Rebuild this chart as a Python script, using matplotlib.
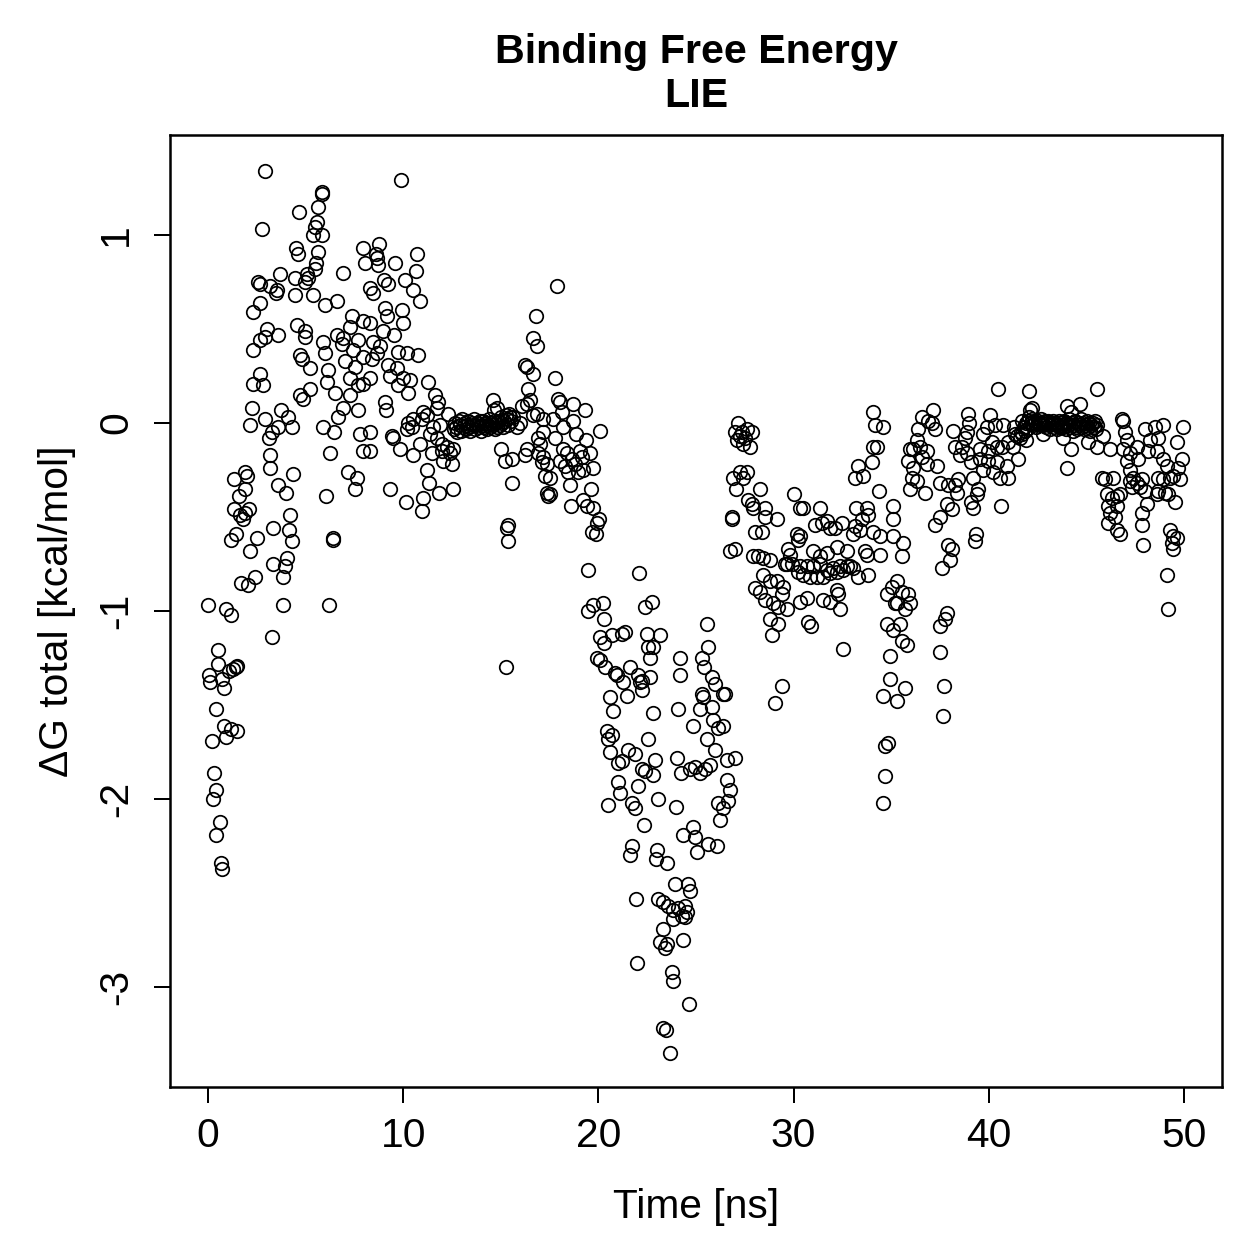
import numpy as np
import matplotlib
matplotlib.use("Agg")
import matplotlib.pyplot as plt

plt.rcParams['font.family'] = ['Liberation Sans', 'DejaVu Sans']
plt.rcParams['axes.unicode_minus'] = False

# ---- data (time in ns, dG in kcal/mol) ----
t_a = [0.0,0.05,0.1,0.2,0.3,0.25,0.4,0.4,0.6,0.65,0.7,0.5,0.5,0.4,0.7,0.8,0.8,0.9,0.9,1.05,1.15,1.2,1.2,1.3,1.35,1.35,1.45,1.5,1.45,1.5,1.6,1.65,1.7,1.8,1.9,1.9,1.9,2.05,2.0,2.1]
v_a = [-0.97,-1.34,-1.38,-1.69,-1.86,-2.0,-1.95,-2.19,-2.12,-2.34,-2.37,-1.21,-1.28,-1.52,-1.36,-1.41,-1.61,-1.67,-0.99,-1.32,-1.63,-0.62,-1.02,-1.31,-0.30,-0.46,-1.30,-1.64,-0.59,-1.29,-0.39,-0.49,-0.85,-0.51,-0.26,-0.48,-0.35,-0.86,-0.28,-0.46]

t_b = [2.92,5.82,5.84,4.68,5.65,5.56,5.48,2.75,5.36,5.82,4.51,4.63,5.65,7.96,8.04,5.53,2.58,2.66,3.69,3.18,3.55,3.48,4.46,5.05,5.14,4.97,5.48,6.9,8.3,2.66,2.29,4.46,5.4,5.99,6.59,7.36,7.96,3.0,2.92,2.66,2.32,3.6,4.54,4.97,4.97,5.91,6.59,6.93,6.85,7.27,7.7,7.44,5.99,4.71,4.8,5.22,7.02,7.53,7.96,2.66,2.32,2.83,6.16,6.08,7.27,7.7,7.96,4.71,4.88,5.22,6.5,7.27,2.24,2.15,2.92,3.72,4.11,4.29,3.6,3.26,3.14,5.91,6.45,6.93,6.68,7.7,7.79,6.25,7.92,3.18,3.18,4.37,3.6,3.99,7.19,7.61,7.53,6.05,4.2,3.35,4.16,4.29,2.49,2.15,6.39,6.39,3.35,4.06,3.94,3.82,2.41,3.86,6.22,3.26]
v_b = [1.34,1.23,1.22,1.12,1.15,1.07,1.04,1.03,1.00,1.0,0.93,0.90,0.91,0.93,0.85,0.85,0.75,0.74,0.79,0.73,0.71,0.69,0.77,0.79,0.77,0.75,0.82,0.80,0.72,0.64,0.59,0.68,0.68,0.63,0.65,0.57,0.54,0.50,0.46,0.44,0.39,0.47,0.52,0.49,0.46,0.43,0.47,0.45,0.42,0.51,0.44,0.39,0.37,0.36,0.34,0.29,0.33,0.30,0.35,0.26,0.21,0.20,0.28,0.22,0.24,0.20,0.21,0.15,0.13,0.18,0.16,0.15,0.08,-0.01,0.02,0.07,0.03,-0.02,-0.02,-0.05,-0.08,-0.02,-0.05,0.08,0.03,0.07,-0.06,-0.16,-0.15,-0.17,-0.24,-0.27,-0.33,-0.37,-0.26,-0.29,-0.35,-0.39,-0.49,-0.56,-0.57,-0.63,-0.61,-0.68,-0.61,-0.62,-0.75,-0.72,-0.76,-0.82,-0.82,-0.97,-0.97,-1.14]

t_c = [9.87,8.78,8.6,8.66,8.73,9.58,10.72,10.66,8.47,9.02,9.24,10.09,10.52,10.86,9.07,9.19,9.92,10.0,8.3,8.95,9.53,8.47,8.81,8.64,8.38,9.75,10.18,10.77,9.24,9.67,9.32,9.75,10.0,10.35,10.26,8.3,11.29,11.63,11.8,11.72,9.07,9.12,12.31,11.03,11.2,10.95,10.26,10.43,10.18,10.52,11.54,11.89,11.37,11.72,9.41,9.49,9.84,8.3,8.3,10.86,10.52,11.46,11.97,12.22,12.57,11.97,12.4,12.06,12.48,11.2,11.34,11.85,12.54,9.32,10.14,11.03,10.95]
v_c = [1.29,0.95,0.90,0.88,0.84,0.85,0.90,0.81,0.69,0.76,0.74,0.76,0.71,0.65,0.61,0.57,0.60,0.53,0.53,0.49,0.47,0.43,0.41,0.37,0.34,0.38,0.37,0.36,0.31,0.29,0.25,0.20,0.24,0.23,0.16,0.24,0.22,0.15,0.11,0.08,0.11,0.07,0.05,0.06,0.04,0.02,0.0,-0.02,-0.03,0.02,-0.02,-0.01,-0.06,-0.08,-0.07,-0.08,-0.14,-0.05,-0.15,-0.11,-0.17,-0.16,-0.11,-0.13,-0.14,-0.15,-0.16,-0.20,-0.22,-0.25,-0.32,-0.37,-0.35,-0.35,-0.42,-0.40,-0.47]

t_d = [12.6,12.66,12.72,12.78,12.84,12.9,12.96,13.02,13.08,13.14,13.2,13.26,13.32,13.38,13.44,13.5,13.56,13.62,13.68,13.74,13.8,13.86,13.92,13.98,14.04,14.1,14.16,14.22,14.28,14.34,14.4,14.46,14.52,14.58,14.64,14.7,14.76,14.82,14.88,14.94,15.0,15.06,15.12,15.18,15.24,15.3,15.36,15.42,15.48,15.54]
v_d = [-0.03,0.0,-0.02,-0.05,0.01,-0.01,-0.04,0.02,-0.02,0.0,-0.03,-0.01,0.01,-0.02,-0.04,0.0,-0.01,0.02,-0.03,-0.01,0.0,-0.02,0.01,-0.04,-0.01,0.01,-0.02,0.0,-0.03,-0.01,0.02,-0.02,0.0,-0.01,0.01,-0.03,0.0,-0.02,0.01,-0.01,0.03,0.0,-0.02,0.01,0.04,0.02,-0.01,0.05,0.03,0.01]

t_e = [14.58,14.65,14.79,15.03,15.2,15.55,15.55,15.38,15.3,15.38,15.27,16.8,16.67,16.84,16.24,16.33,16.67,16.41,16.5,16.07,16.33,16.84,16.67,17.18,15.64,15.81,15.98,16.24,16.33,16.92,17.0,17.18,16.92,17.18,17.1,17.35,17.26,17.35,17.43,
       17.89,17.78,17.95,18.03,18.12,17.69,18.68,19.31,18.72,18.2,20.08,18.85,19.36,17.78,18.2,18.37,19.06,19.57,18.03,18.63,19.14,18.29,18.8,19.23,19.74,18.46,18.97,17.52,18.54,19.6,17.52,18.58,19.23,19.4,19.7,20.05,19.91,19.66,19.88,19.48]
v_e = [0.12,0.07,0.08,-0.14,-0.20,-0.19,-0.32,-0.54,-0.56,-0.63,-1.30,0.57,0.45,0.41,0.31,0.30,0.26,0.18,0.12,0.09,0.10,0.05,0.04,0.02,0.03,-0.02,0.0,-0.17,-0.14,-0.08,-0.11,-0.05,-0.16,-0.18,-0.21,-0.22,-0.28,-0.37,-0.39,
       0.73,0.24,0.13,0.11,0.06,0.02,0.10,0.07,0.01,-0.02,-0.04,-0.06,-0.09,-0.08,-0.14,-0.16,-0.15,-0.16,-0.20,-0.19,-0.18,-0.23,-0.22,-0.25,-0.24,-0.26,-0.26,-0.29,-0.33,-0.35,-0.38,-0.44,-0.41,-0.44,-0.45,-0.51,-0.53,-0.58,-0.59,-0.78]

t_f = [22.1,19.48,19.74,20.25,20.3,22.39,22.73,25.55,25.63,20.08,20.29,20.68,21.19,21.37,22.47,23.16,22.56,22.81,22.64,24.18,24.18,25.29,25.41,19.91,20.08,20.34,20.85,20.94,21.62,22.04,22.22,22.64,25.8,25.97,26.4,25.29,25.37,21.28,21.45,22.13,22.22,20.59,20.76,22.78,24.09,25.2,25.8,25.89,26.14,26.4,24.86,20.42,20.68,20.51,22.56,25.55,25.97,20.59,21.02,21.53,21.88,21.19,22.22,22.39,22.9,22.81,23.07,24.01,24.22,24.69,24.95,25.2,25.46,25.72,26.57,27.0,26.57,26.74,26.14,26.4,26.22,26.66,21.02,21.11,21.7,21.88,22.04,20.51,22.34,23.98,24.32,24.86,24.95,25.63,26.06,25.03,21.7,21.62,22.98,22.95,23.5,23.92,24.6,24.69,21.93,23.07,23.33,23.58,23.84,24.09,24.44,24.52,24.27,24.44,23.81,23.29,23.16,23.5,23.41,24.35,21.96,23.75,23.84,24.65,23.33,23.46,23.67]
v_f = [-0.80,-1.0,-0.97,-0.96,-1.04,-0.98,-0.95,-1.07,-1.19,-1.14,-1.17,-1.13,-1.12,-1.11,-1.12,-1.13,-1.19,-1.19,-1.25,-1.25,-1.34,-1.25,-1.30,-1.25,-1.26,-1.30,-1.33,-1.34,-1.30,-1.34,-1.37,-1.35,-1.35,-1.39,-1.44,-1.44,-1.46,-1.38,-1.45,-1.38,-1.42,-1.46,-1.53,-1.54,-1.52,-1.52,-1.51,-1.58,-1.62,-1.61,-1.61,-1.64,-1.66,-1.68,-1.68,-1.68,-1.74,-1.75,-1.81,-1.74,-1.76,-1.80,-1.84,-1.85,-1.79,-1.87,-2.0,-1.78,-1.86,-1.84,-1.83,-1.86,-1.84,-1.82,-1.79,-1.78,-1.90,-1.95,-2.02,-2.05,-2.11,-2.01,-1.91,-1.97,-2.02,-2.05,-1.93,-2.03,-2.14,-2.04,-2.19,-2.15,-2.20,-2.24,-2.25,-2.28,-2.25,-2.30,-2.27,-2.32,-2.34,-2.45,-2.45,-2.49,-2.53,-2.53,-2.55,-2.57,-2.59,-2.58,-2.57,-2.60,-2.62,-2.63,-2.64,-2.69,-2.76,-2.77,-2.79,-2.75,-2.87,-2.92,-2.97,-3.09,-3.22,-3.23,-3.35]

t_g = [27.17,27.0,27.34,27.6,27.85,27.08,27.43,27.77,27.26,27.51,26.91,27.26,27.6,27.43,27.05,28.28,27.68,27.85,27.94,28.53,28.53,29.17,26.83,26.85,30.0,30.33,30.5,31.35,31.1,31.44,31.69,31.86,32.12,32.46,28.02,28.37,30.16,30.33,30.24,26.74,27.0,27.94,28.2,28.45,28.79,29.73,29.82,29.64,31.0,31.35,31.69,32.2,32.72,33.66,33.74,34.43,29.56,29.9,30.33,30.67,31.0,31.35,31.69,32.03,32.38,32.72,32.89,33.06,30.24,30.5,30.84,31.18,31.52,31.86,32.2,32.55,33.31,33.83,28.45,28.79,29.13,29.47,29.39,28.02,28.28,28.53,28.96,29.22,29.64,28.79,29.22,28.88,30.33,30.67,30.75,30.88,31.52,31.86,32.2,32.29,32.38,32.55,29.39,29.04,26.48,34.08,34.17,34.6,34.08,34.25,34.0,33.31,33.14,33.57,34.39,33.2,33.74,33.49,33.83,33.14,33.06,33.4,34.08,34.43,35.1,35.1,35.07,34.77,35.02,35.2,34.77,35.1,34.94,34.94,34.6,35.28]
v_g = [0.0,-0.05,-0.05,-0.03,-0.05,-0.09,-0.11,-0.13,-0.07,-0.08,-0.29,-0.26,-0.26,-0.29,-0.35,-0.35,-0.41,-0.43,-0.45,-0.45,-0.50,-0.51,-0.50,-0.51,-0.38,-0.45,-0.45,-0.45,-0.54,-0.53,-0.52,-0.56,-0.56,-0.53,-0.58,-0.58,-0.59,-0.60,-0.62,-0.68,-0.67,-0.71,-0.71,-0.72,-0.73,-0.67,-0.70,-0.75,-0.68,-0.71,-0.69,-0.66,-0.68,-0.68,-0.70,-0.70,-0.75,-0.75,-0.76,-0.76,-0.76,-0.75,-0.78,-0.77,-0.76,-0.76,-0.76,-0.77,-0.79,-0.81,-0.82,-0.82,-0.82,-0.80,-0.79,-0.78,-0.82,-0.81,-0.81,-0.84,-0.84,-0.87,-0.91,-0.88,-0.90,-0.94,-0.96,-0.98,-0.99,-1.04,-1.07,-1.13,-0.95,-0.93,-1.06,-1.08,-0.94,-0.95,-0.89,-0.91,-0.99,-1.20,-1.40,-1.49,-1.44,0.06,-0.01,-0.02,-0.13,-0.13,-0.21,-0.23,-0.29,-0.28,-0.36,-0.45,-0.45,-0.51,-0.49,-0.55,-0.59,-0.57,-0.58,-0.60,-0.44,-0.51,-0.60,-0.91,-0.87,-0.96,-1.07,-1.10,-1.24,-1.36,-1.45,-1.48]

t_h = [40.49,42.08,42.2,37.16,36.56,36.9,37.07,37.24,36.39,36.3,36.13,36.48,36.82,35.96,35.88,36.56,36.82,37.33,36.13,36.05,36.3,35.96,36.73,38.18,38.95,39.0,38.87,38.78,38.27,38.61,38.52,38.87,39.11,39.2,40.06,39.89,40.32,40.74,39.72,40.15,39.55,39.97,40.4,40.66,41.0,41.34,41.26,41.52,39.55,39.97,40.4,40.92,39.72,40.23,40.57,41.0,39.46,39.38,39.11,39.2,40.61,38.44,38.27,37.93,37.5,38.36,37.84,38.1,37.5,37.24,39.34,39.29,35.6,35.54,37.93,38.1,38.01,37.59,35.28,35.54,35.88,35.96,35.28,35.71,35.45,35.54,35.79,37.84,37.76,37.5,37.5,35.71,37.7,37.64,34.85,34.69,34.69,34.6]
v_h = [0.18,0.17,0.08,0.07,0.03,0.01,0.0,-0.03,-0.03,-0.09,-0.14,-0.13,-0.15,-0.14,-0.20,-0.18,-0.22,-0.23,-0.24,-0.29,-0.31,-0.35,-0.37,-0.04,0.05,0.0,-0.05,-0.08,-0.13,-0.13,-0.17,-0.16,-0.21,-0.29,0.04,-0.02,-0.01,-0.01,-0.06,-0.10,-0.14,-0.15,-0.13,-0.13,-0.10,-0.06,-0.13,-0.19,-0.19,-0.20,-0.21,-0.23,-0.25,-0.26,-0.29,-0.29,-0.35,-0.38,-0.42,-0.45,-0.44,-0.30,-0.33,-0.33,-0.32,-0.37,-0.43,-0.46,-0.50,-0.54,-0.59,-0.63,-0.64,-0.71,-0.65,-0.67,-0.73,-0.77,-0.84,-0.90,-0.91,-0.96,-0.96,-0.99,-1.07,-1.16,-1.18,-1.01,-1.04,-1.08,-1.22,-1.41,-1.40,-1.56,-1.70,-1.72,-1.88,-2.02]

t_i = [41.6,41.66,41.72,41.78,41.84,41.9,41.96,42.02,42.08,42.14,42.2,42.26,42.32,42.38,42.44,42.5,42.56,42.62,42.68,42.74,42.8,42.86,42.92,42.98,43.04,43.1,43.16,43.22,43.28,43.34,43.4,43.46,43.52,43.58,43.64,43.7,43.76,43.82,43.88,43.94,44.0,44.06,44.12,44.18,44.24,44.3,44.36,44.42,44.48,44.54,44.6,44.66,44.72,44.78,44.84,44.9,44.96,45.02,45.08,45.14,45.2,45.26,45.32,45.38,45.44,45.5,45.56]
v_i = [-0.08,-0.05,-0.06,-0.02,-0.04,0.0,-0.03,0.01,0.03,0.0,0.02,-0.01,0.01,0.0,-0.02,0.01,0.0,-0.01,0.02,0.0,-0.01,0.01,-0.02,0.0,0.01,-0.01,-0.03,0.0,0.01,-0.02,0.0,-0.01,-0.03,0.01,-0.02,0.0,-0.01,-0.02,0.01,-0.03,0.0,-0.01,0.02,-0.02,0.0,-0.04,-0.01,0.01,-0.02,-0.03,0.0,-0.01,0.02,-0.02,0.0,-0.03,-0.01,0.01,-0.02,0.0,-0.04,-0.01,0.0,-0.02,0.01,-0.03,-0.01]

t_j = [41.3,41.45,41.7,41.9,42.11,43.99,44.67,44.19,45.56,42.8,43.82,45.1,45.53,46.21,45.87,44.19,43.99,
       46.81,46.89,46.98,47.06,46.89,47.23,47.06,47.57,47.66,47.99,48.51,48.94,48.26,48.68,48.17,48.6,48.94,49.11,49.63,49.97,49.88,49.71,49.46,
       47.23,47.4,47.23,47.57,47.83,47.32,47.75,47.99,48.68,48.94,49.28,49.8,48.68,49.03,48.6,49.2,49.54,48.09,
       45.78,45.95,46.38,46.04,46.3,46.55,46.72,46.12,46.55,46.21,46.47,46.12,46.55,46.72,47.83,47.83,47.91,49.28,49.46,49.63,49.37,49.46,49.11,49.2]
v_j = [-0.02,-0.07,0.01,-0.09,0.07,0.09,0.10,0.06,0.18,-0.06,-0.08,-0.10,-0.13,-0.14,-0.07,-0.14,-0.24,
       0.02,0.01,-0.05,-0.09,-0.14,-0.16,-0.20,-0.13,-0.19,-0.03,-0.02,-0.01,-0.09,-0.08,-0.15,-0.15,-0.19,-0.23,-0.10,-0.02,-0.19,-0.24,-0.28,
       -0.25,-0.29,-0.31,-0.32,-0.30,-0.34,-0.34,-0.36,-0.29,-0.30,-0.29,-0.30,-0.36,-0.37,-0.38,-0.38,-0.42,-0.43,
       -0.29,-0.30,-0.29,-0.38,-0.40,-0.39,-0.38,-0.44,-0.44,-0.48,-0.50,-0.53,-0.57,-0.59,-0.48,-0.54,-0.65,-0.57,-0.60,-0.61,-0.64,-0.67,-0.81,-0.99]

x_ticks = [0, 10, 20, 30, 40, 50]
y_ticks = [-3, -2, -1, 0, 1]
title_lines = ["Binding Free Energy", "LIE"]
x_label = "Time [ns]"
y_label = "\u0394G total [kcal/mol]"

time = np.array(t_a + t_b + t_c + t_d + t_e + t_f + t_g + t_h + t_i + t_j)
dg = np.array(v_a + v_b + v_c + v_d + v_e + v_f + v_g + v_h + v_i + v_j)

# ---- figure ----
W = 1259
dpi = 180
fig = plt.figure(figsize=(W / dpi, W / dpi), dpi=dpi)
ax = fig.add_axes([170 / W, 1 - 1087 / W, (1222 - 170) / W, (1087 - 135) / W])

ax.plot(time, dg, linestyle='none', marker='o', ms=5.4, mfc='none',
        mec='black', mew=0.7)

ax.set_xlim(-1.95, 51.95)
ax.set_ylim(-3.532, 1.532)
ax.set_xticks(x_ticks)
ax.set_yticks(y_ticks)
fs = 16.3
ax.tick_params(axis='both', direction='out', length=6.4, width=0.8,
               labelsize=fs, colors='black')
ax.tick_params(axis='x', pad=5.5)
ax.tick_params(axis='y', pad=7.5)
for lab in ax.get_yticklabels():
    lab.set_rotation(90)
    lab.set_va('center')
for s in ax.spines.values():
    s.set_linewidth(1.0)

cx = (170 + 1222) / 2 / W
fig.text(cx, 1 - 63 / W, title_lines[0], ha='center', va='baseline',
         fontsize=16.5, fontweight='bold')
fig.text(cx, 1 - 107 / W, title_lines[1], ha='center', va='baseline',
         fontsize=16.5, fontweight='bold')
fig.text(cx, 1 - 1218 / W, x_label, ha='center', va='baseline', fontsize=fs)
fig.text(57 / W, 1 - 611 / W, y_label, ha='center', va='center',
         rotation=90, fontsize=fs)

fig.savefig("out.png", dpi=dpi, facecolor='white')
